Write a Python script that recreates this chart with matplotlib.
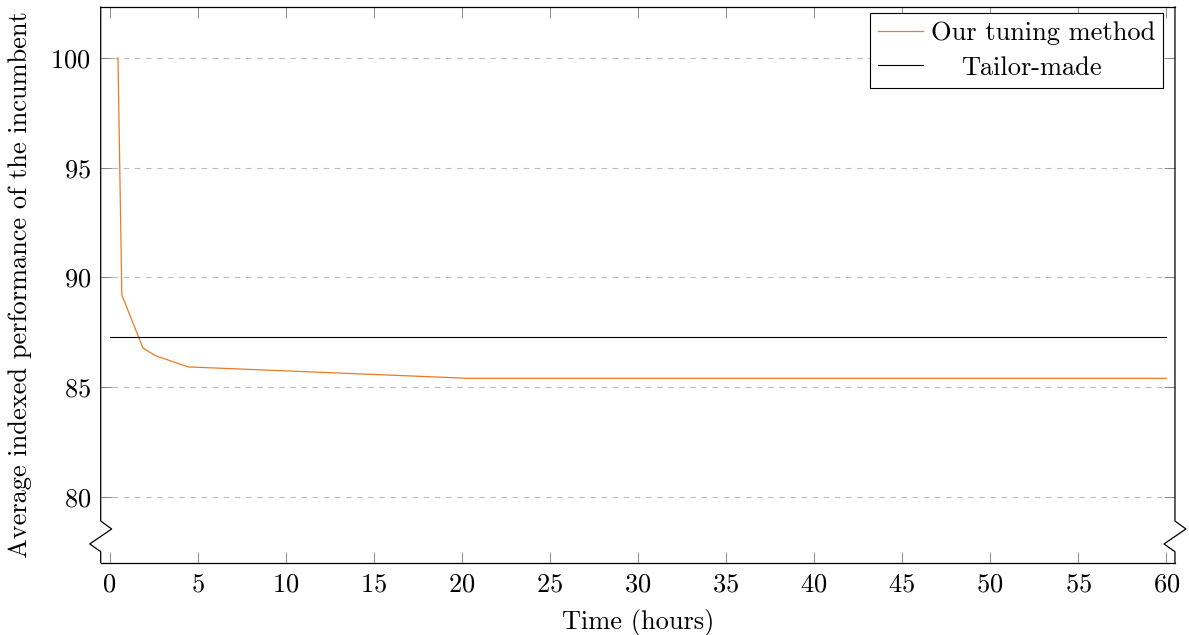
import matplotlib
matplotlib.use("Agg")
import matplotlib.pyplot as plt

plt.rcParams['font.family'] = ['cmr10', 'DejaVu Serif']
plt.rcParams['mathtext.fontset'] = 'cm'
plt.rcParams['axes.formatter.use_mathtext'] = True

# incumbent performance over the tuning run
hours = [0.48, 0.70, 1.90, 2.61, 4.47, 20.4, 60.0]
performance = [100.0, 89.2, 86.78, 86.43, 85.92, 85.4, 85.4]

# reference value of the hand-built configuration
tailor_hours = [0, 60]
tailor_value = [87.3, 87.3]

x_ticks = list(range(0, 61, 5))
y_ticks = [80, 85, 90, 95, 100]

FS = 19

fig = plt.figure(figsize=(11.89, 6.35), dpi=100)
ax = fig.add_axes([0.0847, 0.1139, 0.9035, 0.8751])

ax.plot(hours, performance, color='#EC7A22', lw=0.9, label='Our tuning method')
ax.plot(tailor_hours, tailor_value, color='black', lw=0.8, label='Tailor-made')

ax.set_xlim(-0.5, 60.5)
ax.set_ylim(77.0, 102.32)
ax.set_xticks(x_ticks)
ax.set_yticks(y_ticks)
ax.yaxis.grid(True, ls=(0, (5, 5)), color='#bbbbbb', lw=0.8)
ax.set_axisbelow(True)

ax.tick_params(direction='in', length=8, width=0.6, color='#777777',
               labelsize=FS, top=True, right=True, pad=7)

ax.set_xlabel('Time (hours)', fontsize=FS, labelpad=9)
ax.set_ylabel('Average indexed performance of the incumbent', fontsize=FS, labelpad=13)

for s in ['top', 'bottom']:
    ax.spines[s].set_linewidth(0.9)
ax.spines['left'].set_visible(False)
ax.spines['right'].set_visible(False)

# side axes with the zigzag break near the bottom
dx = 0.0102
zig_y = [0.0, 0.0198, 0.0337, 0.0606, 0.075, 1.0]
for x0 in [0.0, 1.0]:
    zig_x = [x0, x0, x0 - dx, x0 + dx, x0, x0]
    ax.plot(zig_x, zig_y, transform=ax.transAxes, color='black', lw=0.9,
            clip_on=False, zorder=5)

leg = ax.legend(loc='upper right', bbox_to_anchor=(0.9891, 0.9887),
                fontsize=FS, frameon=True, fancybox=False,
                edgecolor='black', framealpha=1, handlelength=1.7,
                handletextpad=0.3, borderpad=0.3, labelspacing=0.42,
                borderaxespad=0)
leg.get_frame().set_linewidth(0.8)

# center the entries inside the legend box
fig.canvas.draw()
renderer = fig.canvas.get_renderer()
widths = [t.get_window_extent(renderer).width for t in leg.get_texts()]
w_max = max(widths)
for t, w in zip(leg.get_texts(), widths):
    t.set_position(((w_max - w) / 2 * 72 / fig.dpi, 0))

fig.savefig('out.png', dpi=100)
